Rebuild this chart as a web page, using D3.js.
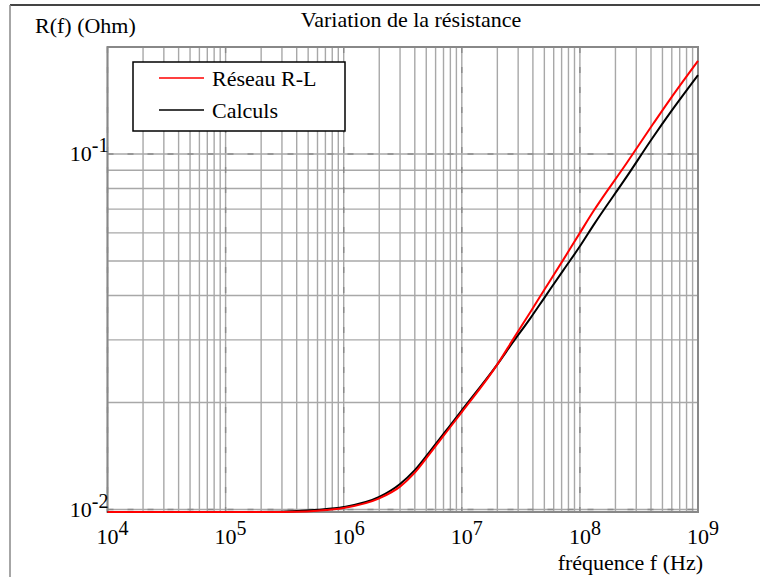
<!DOCTYPE html>
<html>
<head>
<meta charset="utf-8">
<script src="https://cdn.jsdelivr.net/npm/d3@7"></script>
<style>
  body { margin: 0; background: #fff; }
  svg text { font-family: "Liberation Serif", "Times New Roman", serif; fill: #000; }
</style>
</head>
<body>
<div id="chart"></div>
<script>
// fréquences (Hz)
const freqHz = [1e4, 1e5, 3e5, 4e5, 6e5, 1e6, 2e6, 3e6, 4e6, 5.4e6, 7.5e6, 1e7,
                2e7, 2.7e7, 3.8e7, 5e7, 7.2e7, 1e8, 1.3e8, 2.5e8, 4.2e8, 5.8e8, 1e9];
// résistance (Ohm)
const rReseau  = [0.00984, 0.00984, 0.00984, 0.00985, 0.00992, 0.0101, 0.01075, 0.0116, 0.0127, 0.0144, 0.0166, 0.0188,
                  0.0256, 0.0300, 0.0359, 0.0415, 0.0503, 0.0600, 0.0690, 0.0945, 0.122, 0.1425, 0.1828];
const rCalculs = [0.00984, 0.00984, 0.00985, 0.0099, 0.00998, 0.01016, 0.01085, 0.0118, 0.0129, 0.0146, 0.0168, 0.0190,
                  0.0256, 0.0295, 0.0345, 0.0394, 0.0470, 0.0550, 0.0630, 0.0865, 0.112, 0.1305, 0.1667];
const series = [
  { name: "Calculs", values: rCalculs, color: "#000000" },
  { name: "Réseau R-L", values: rReseau, color: "#ff0000" }
];
const xTickExp = [4, 5, 6, 7, 8, 9];
const yTickExp = [-2, -1];

const width = 760, height = 577;
const marginLeft = 107.5, marginRight = 62, marginTop = 47, marginBottom = 65;

const x = d3.scaleLog().domain([1e4, 1e9]).range([marginLeft, width - marginRight]);
const y = d3.scaleLog().domain([0.00984, 0.2]).range([height - marginBottom, marginTop]);

const svg = d3.select("#chart").append("svg")
  .attr("width", width).attr("height", height);

// cadre extérieur
svg.append("line").attr("x1", 10).attr("x2", width).attr("y1", 5).attr("y2", 5)
  .attr("stroke", "#444").attr("stroke-width", 2);
svg.append("line").attr("x1", 10).attr("x2", 10).attr("y1", 5).attr("y2", height)
  .attr("stroke", "#888").attr("stroke-width", 1.5);

const isMajor = v => Math.abs(Math.log10(v) - Math.round(Math.log10(v))) < 1e-9;

// grille
const grid = svg.append("g");
const xGrid = x.ticks();
const yGrid = y.ticks().filter(v => v > 0.00984 && v < 0.2);

grid.selectAll(".vx").data(xGrid).enter().append("line")
  .attr("x1", d => x(d)).attr("x2", d => x(d))
  .attr("y1", marginTop).attr("y2", height - marginBottom)
  .attr("stroke", "#a8a8a8").attr("stroke-width", 1.4);
grid.selectAll(".hy").data(yGrid).enter().append("line")
  .attr("x1", marginLeft).attr("x2", width - marginRight)
  .attr("y1", d => y(d)).attr("y2", d => y(d))
  .attr("stroke", "#a8a8a8").attr("stroke-width", 1.4);

// lignes principales en pointillés
grid.selectAll(".vmaj").data(xGrid.filter(isMajor)).enter().append("line")
  .attr("x1", d => x(d)).attr("x2", d => x(d))
  .attr("y1", marginTop).attr("y2", height - marginBottom)
  .attr("stroke", "#8a8a8a").attr("stroke-width", 1.4).attr("stroke-dasharray", "6,14");
grid.selectAll(".hmaj").data(yGrid.filter(isMajor)).enter().append("line")
  .attr("x1", marginLeft).attr("x2", width - marginRight)
  .attr("y1", d => y(d)).attr("y2", d => y(d))
  .attr("stroke", "#8a8a8a").attr("stroke-width", 1.4).attr("stroke-dasharray", "6,14");

// bord du graphe
svg.append("rect")
  .attr("x", marginLeft).attr("y", marginTop)
  .attr("width", width - marginRight - marginLeft)
  .attr("height", height - marginBottom - marginTop)
  .attr("fill", "none").attr("stroke", "#888").attr("stroke-width", 2);

// courbes
const line = d3.line()
  .x((d, i) => x(freqHz[i]))
  .y(d => y(d))
  .curve(d3.curveMonotoneX);

svg.selectAll(".courbe").data(series).enter().append("path")
  .attr("fill", "none")
  .attr("stroke", d => d.color)
  .attr("stroke-width", 2)
  .attr("d", d => line(d.values));

// étiquettes des axes (10^n)
const xLab = svg.append("g").selectAll("text").data(xTickExp).enter().append("text")
  .attr("x", d => x(Math.pow(10, d)) + 5)
  .attr("y", 544)
  .attr("text-anchor", "middle")
  .style("font-size", "22px");
xLab.append("tspan").text("10");
xLab.append("tspan").attr("dy", -9).style("font-size", "20px").text(d => d);

const yLab = svg.append("g").selectAll("text").data(yTickExp).enter().append("text")
  .attr("x", marginLeft + 1)
  .attr("y", d => y(Math.pow(10, d)) + 7)
  .attr("text-anchor", "end")
  .style("font-size", "22px");
yLab.append("tspan").text("10");
yLab.append("tspan").attr("dy", -9).style("font-size", "20px").text(d => d);

// titres
svg.append("text").attr("x", 411).attr("y", 27).attr("text-anchor", "middle")
  .style("font-size", "22px").text("Variation de la résistance");
svg.append("text").attr("x", 35).attr("y", 33)
  .style("font-size", "22px").text("R(f) (Ohm)");
svg.append("text").attr("x", 703).attr("y", 570).attr("text-anchor", "end")
  .style("font-size", "22px").text("fréquence f (Hz)");

// légende
const legend = svg.append("g");
legend.append("rect")
  .attr("x", 133).attr("y", 62).attr("width", 212).attr("height", 69)
  .attr("fill", "#fff").attr("stroke", "#000").attr("stroke-width", 1.5);
const legendItems = [series[1], series[0]];
legendItems.forEach((s, i) => {
  const ly = 78 + i * 32;
  legend.append("line").attr("x1", 159).attr("x2", 204).attr("y1", ly).attr("y2", ly)
    .attr("stroke", s.color).attr("stroke-width", 1.5);
  legend.append("text").attr("x", 212).attr("y", ly + 8)
    .style("font-size", "22px").text(s.name);
});
</script>
</body>
</html>
